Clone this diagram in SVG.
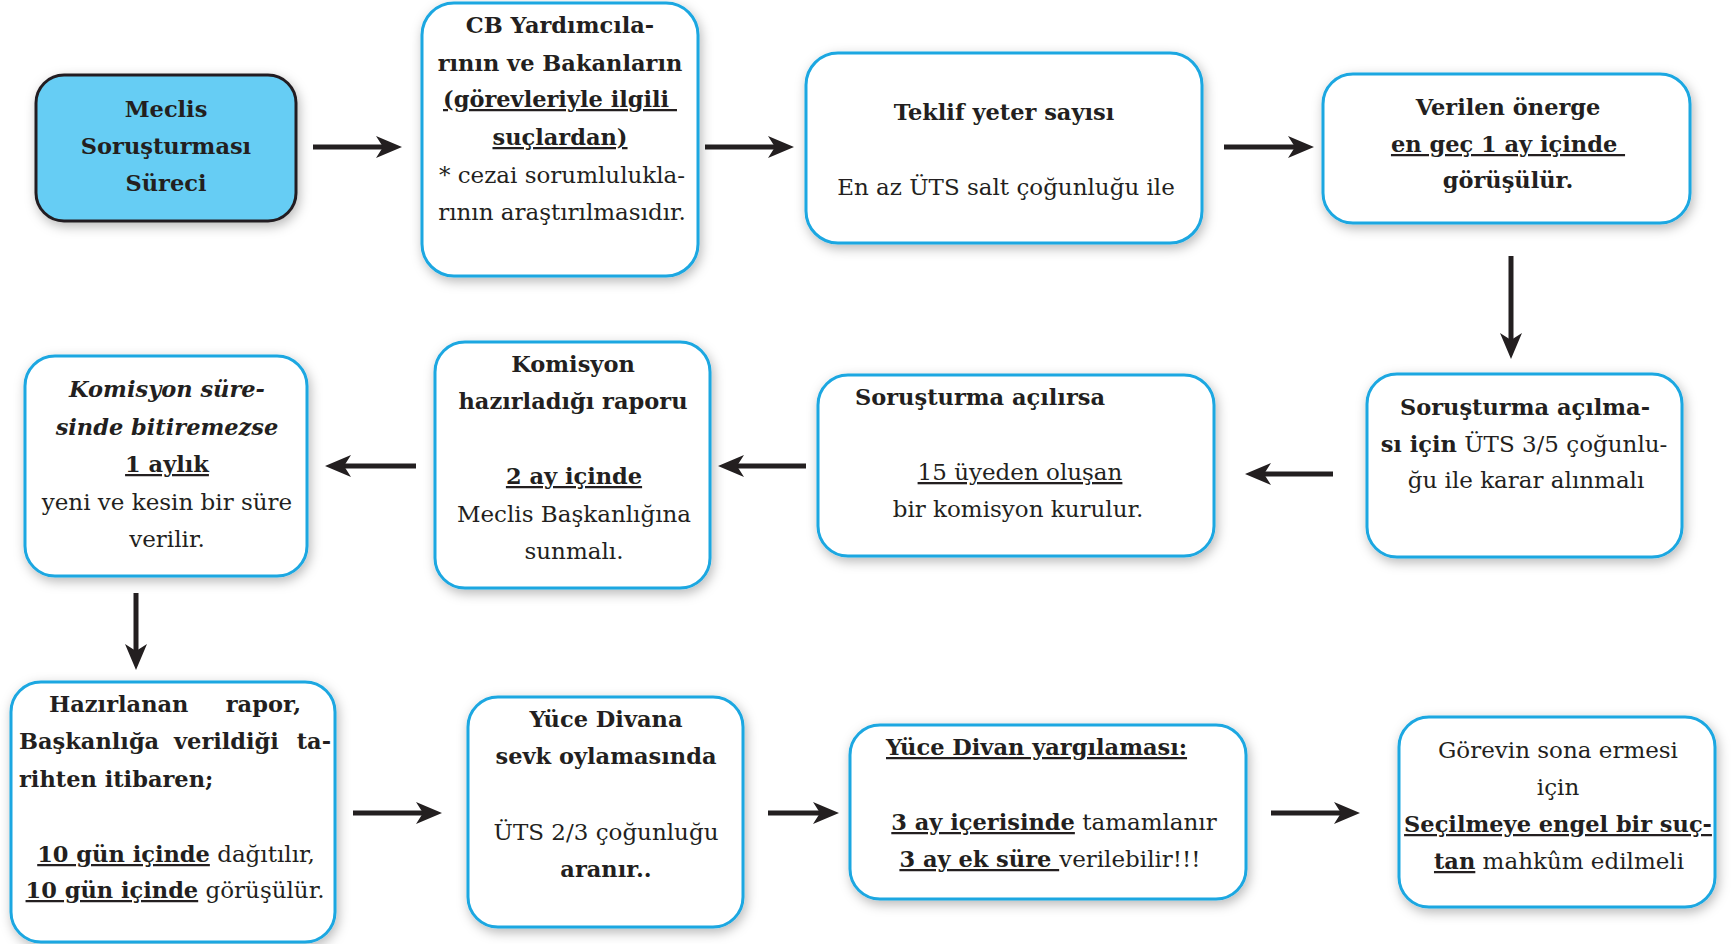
<svg xmlns="http://www.w3.org/2000/svg" width="1732" height="944" viewBox="0 0 1732 944">
<style>
  text { font-family: "DejaVu Serif", "Liberation Serif", serif; font-size: 23px; fill: #231F20; }
  .b { font-weight: bold; font-size: 22.5px; }
  .i { font-style: italic; }
  .u { text-decoration: underline; }
  .c { text-anchor: middle; }
  .e { text-anchor: end; }
  .pre { white-space: pre; }
  .box { fill: #ffffff; stroke: #1AA7E1; stroke-width: 3; filter: url(#sh); }
  .start { fill: #66CDF4; stroke: #231F20; stroke-width: 3; filter: url(#sh); }
  .arr { stroke: #231F20; stroke-width: 5; fill: none; marker-end: url(#ah); }
</style>
<defs>
  <filter id="sh" x="-20%" y="-20%" width="140%" height="140%">
    <feDropShadow dx="2" dy="4" stdDeviation="6" flood-color="#000000" flood-opacity="0.28"/>
  </filter>
  <marker id="ah" markerUnits="userSpaceOnUse" markerWidth="26" markerHeight="22" refX="10" refY="11" orient="auto">
    <path d="M0,0 L26,11 L0,22 L7,11 Z" fill="#231F20"/>
  </marker>
</defs>
<rect width="1732" height="944" fill="#ffffff"/>

<g id="connectors">
  <line class="arr" x1="313" y1="147" x2="386" y2="147"/>
  <line class="arr" x1="705" y1="147" x2="778" y2="147"/>
  <line class="arr" x1="1224" y1="147" x2="1298" y2="147"/>
  <line class="arr" x1="1511" y1="256" x2="1511" y2="343"/>
  <line class="arr" x1="1333" y1="474" x2="1261" y2="474"/>
  <line class="arr" x1="806" y1="466" x2="734" y2="466"/>
  <line class="arr" x1="416" y1="466" x2="341" y2="466"/>
  <line class="arr" x1="136" y1="593" x2="136" y2="654"/>
  <line class="arr" x1="353" y1="813" x2="426" y2="813"/>
  <line class="arr" x1="768" y1="813" x2="823" y2="813"/>
  <line class="arr" x1="1271" y1="813" x2="1344" y2="813"/>
</g>

<g id="n1">
  <rect class="start" x="36" y="75" width="260" height="146" rx="28"/>
  <text class="b c" x="166" y="117">Meclis</text>
  <text class="b c" x="166" y="154">Soruşturması</text>
  <text class="b c" x="166" y="191">Süreci</text>
</g>

<g id="n2">
  <rect class="box" x="422" y="3" width="276" height="273" rx="32"/>
  <text class="b c" x="560" y="33">CB Yardımcıla-</text>
  <text class="b c" x="560" y="71">rının ve Bakanların</text>
  <text class="b c u pre" x="560" y="107">(görevleriyle ilgili </text>
  <text class="b c u" x="560" y="145">suçlardan)</text>
  <text class="c" x="562" y="183">* cezai sorumlulukla-</text>
  <text class="c" x="562" y="220">rının araştırılmasıdır.</text>
</g>

<g id="n3">
  <rect class="box" x="806" y="53" width="396" height="190" rx="32"/>
  <text class="b c" x="1004" y="120">Teklif yeter sayısı</text>
  <text class="c" x="1006" y="195">En az ÜTS salt çoğunluğu ile</text>
</g>

<g id="n4">
  <rect class="box" x="1323" y="74" width="367" height="149" rx="30"/>
  <text class="b c" x="1508" y="115">Verilen önerge</text>
  <text class="b c u pre" x="1508" y="152">en geç 1 ay içinde </text>
  <text class="b c" x="1508" y="188">görüşülür.</text>
</g>

<g id="n5">
  <rect class="box" x="1367" y="374" width="315" height="183" rx="30"/>
  <text class="b c" x="1525" y="415">Soruşturma açılma-</text>
  <text class="c" x="1524" y="452"><tspan class="b">sı için</tspan> ÜTS 3/5 çoğunlu-</text>
  <text class="c" x="1526" y="488">ğu ile karar alınmalı</text>
</g>

<g id="n6">
  <rect class="box" x="818" y="375" width="396" height="181" rx="30"/>
  <text class="b" x="855" y="405">Soruşturma açılırsa</text>
  <text class="c u" x="1020" y="480">15 üyeden oluşan</text>
  <text class="c" x="1018" y="517">bir komisyon kurulur.</text>
</g>

<g id="n7">
  <rect class="box" x="435" y="342" width="275" height="246" rx="30"/>
  <text class="b c" x="573" y="372">Komisyon</text>
  <text class="b c" x="573" y="409">hazırladığı raporu</text>
  <text class="b c u" x="574" y="484">2 ay içinde</text>
  <text class="c" x="574" y="522">Meclis Başkanlığına</text>
  <text class="c" x="574" y="559">sunmalı.</text>
</g>

<g id="n8">
  <rect class="box" x="25" y="356" width="282" height="220" rx="30"/>
  <text class="b i c" x="167" y="397">Komisyon süre-</text>
  <text class="b i c" x="167" y="435">sinde bitiremezse</text>
  <text class="b c u" x="167" y="472">1 aylık</text>
  <text class="c" x="167" y="510">yeni ve kesin bir süre</text>
  <text class="c" x="167" y="547">verilir.</text>
</g>

<g id="n9">
  <rect class="box" x="11" y="682" width="324" height="260" rx="30"/>
  <text class="b" x="49" y="712">Hazırlanan</text>
  <text class="b e" x="301" y="712">rapor,</text>
  <text class="b" x="19" y="749">Başkanlığa</text>
  <text class="b" x="174" y="749">verildiği</text>
  <text class="b e" x="331" y="749">ta-</text>
  <text class="b" x="19" y="787">rihten itibaren;</text>
  <text class="c" x="176" y="862"><tspan class="b u">10 gün içinde</tspan> dağıtılır,</text>
  <text class="c" x="175" y="898"><tspan class="b u">10 gün içinde</tspan> görüşülür.</text>
</g>

<g id="n10">
  <rect class="box" x="468" y="697" width="275" height="230" rx="30"/>
  <text class="b c" x="606" y="727">Yüce Divana</text>
  <text class="b c" x="606" y="764">sevk oylamasında</text>
  <text class="c" x="606" y="840">ÜTS 2/3 çoğunluğu</text>
  <text class="b c" x="606" y="877">aranır..</text>
</g>

<g id="n11">
  <rect class="box" x="850" y="725" width="396" height="174" rx="30"/>
  <text class="b u" x="886" y="755">Yüce Divan yargılaması:</text>
  <text class="c" x="1054" y="830"><tspan class="b u">3 ay içerisinde</tspan> tamamlanır</text>
  <text class="c pre" x="1050" y="867"><tspan class="b u">3 ay ek süre </tspan>verilebilir!!!</text>
</g>

<g id="n12">
  <rect class="box" x="1399" y="717" width="316" height="190" rx="30"/>
  <text class="c" x="1558" y="758">Görevin sona ermesi</text>
  <text class="c" x="1558" y="795">için</text>
  <text class="b c u" x="1558" y="832">Seçilmeye engel bir suç-</text>
  <text class="c" x="1559" y="869"><tspan class="b u">tan</tspan> mahkûm edilmeli</text>
</g>
</svg>
